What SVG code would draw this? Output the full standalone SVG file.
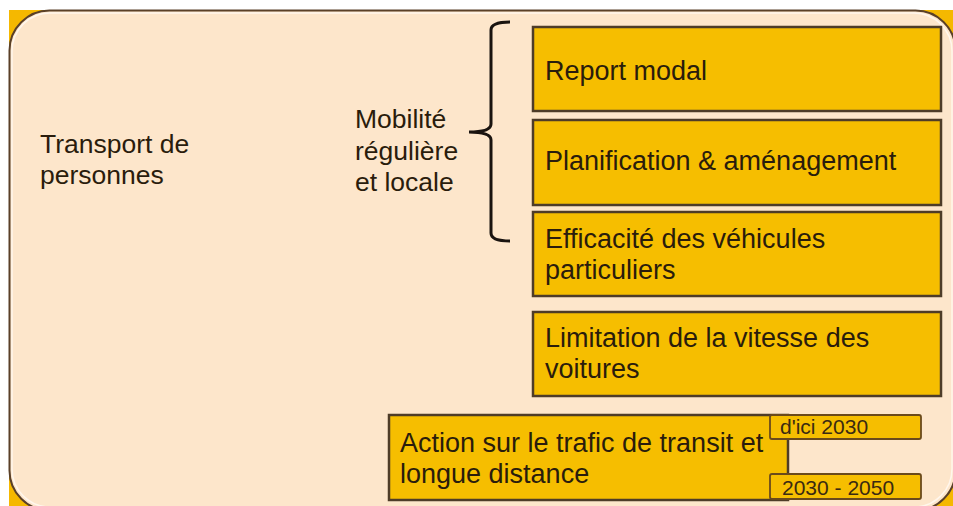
<svg xmlns="http://www.w3.org/2000/svg" width="953" height="506" viewBox="0 0 953 506">
<style>
.t{font-family:"Liberation Sans",Arial,sans-serif;font-size:26.5px;fill:#2a1c0c}
.b{font-size:27px}
.s{font-family:"Liberation Sans",Arial,sans-serif;font-size:21px;fill:#3a2a12}
.box{fill:#f6be00;stroke:#4e3c28;stroke-width:2.5}
.badge{fill:#f6be00;stroke:#6a4a1c;stroke-width:1.8}
</style>
<rect width="953" height="506" fill="#ffffff"/>
<g id="frame">
<rect x="9" y="10" width="944" height="496" fill="#f5b800"/>
<rect x="9.5" y="10.5" width="946" height="500" rx="40" ry="40" fill="#fde6cb" stroke="#5a4028" stroke-width="2"/>
<rect x="12" y="13" width="940" height="494" rx="38" ry="38" fill="none" stroke="#fff6ec" stroke-width="1.5"/>
</g>
<g id="transport">
<text class="t" x="40" y="153">Transport de</text>
<text class="t" x="40" y="184">personnes</text>
</g>
<g id="mobilite">
<text class="t" x="355" y="128">Mobilité</text>
<text class="t" x="355" y="160">régulière</text>
<text class="t" x="355" y="191">et locale</text>
</g>
<g id="connectors">
<path d="M510,22 Q491,22 491,30 L491,124 Q491,132 469,132 Q491,132 491,140 L491,233 Q491,241 510,241" fill="none" stroke="#1a1410" stroke-width="3"/>
</g>
<g id="report">
<rect class="box" x="533" y="27" width="408" height="84"/>
<text class="t b" x="545" y="80">Report modal</text>
</g>
<g id="planification">
<rect class="box" x="533" y="120" width="408" height="85"/>
<text class="t b" x="545" y="170">Planification &amp; aménagement</text>
</g>
<g id="efficacite">
<rect class="box" x="533" y="212" width="408" height="84"/>
<text class="t b" x="545" y="248">Efficacité des véhicules</text>
<text class="t b" x="545" y="279">particuliers</text>
</g>
<g id="limitation">
<rect class="box" x="533" y="312" width="408" height="84"/>
<text class="t b" x="545" y="347">Limitation de la vitesse des</text>
<text class="t b" x="545" y="378">voitures</text>
</g>
<g id="action">
<rect class="box" x="389" y="415" width="399" height="85"/>
<text class="t b" x="400" y="452">Action sur le trafic de transit et</text>
<text class="t b" x="400" y="483">longue distance</text>
</g>
<g id="badge2030">
<rect class="badge" x="770" y="415" width="151" height="24" rx="2"/>
<text class="s" x="780" y="434">d'ici 2030</text>
</g>
<g id="badge2050">
<rect class="badge" x="770" y="474" width="151" height="25" rx="2"/>
<text class="s" x="782" y="495">2030 - 2050</text>
</g>
</svg>
